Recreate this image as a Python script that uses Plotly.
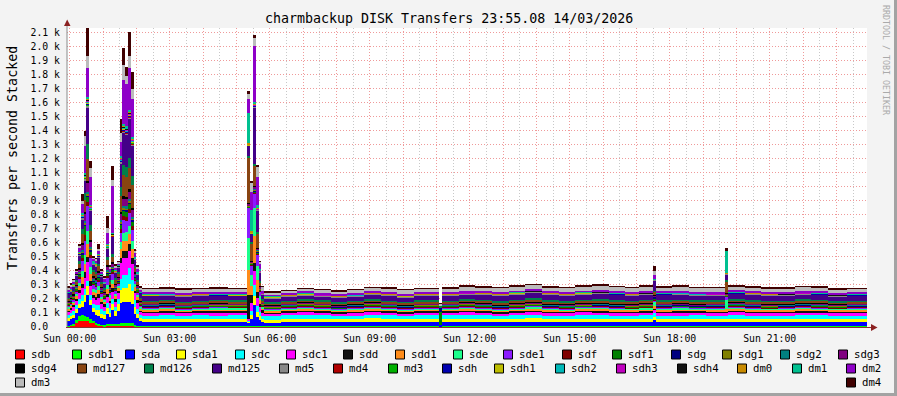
import plotly.graph_objects as go

# ---------------- data ----------------
series_names = ["sdb", "sdb1", "sda", "sda1", "sdc", "sdc1", "sdd", "sdd1", "sde", "sde1", "sdf", "sdf1",
                "sdg", "sdg1", "sdg2", "sdg3", "sdg4", "md127", "md126", "md125", "md5", "md4", "md3",
                "sdh", "sdh1", "sdh2", "sdh3", "sdh4", "dm0", "dm1", "dm2", "dm3", "dm4"]
series_colors = ["#FF0000", "#00FF00", "#0000FF", "#FFFF00", "#00FFFF", "#FF00FF", "#111111", "#FF8C1A",
                 "#1AFF8C", "#8C1AFF", "#800000", "#008000", "#000080", "#808000", "#008080", "#800080",
                 "#000000", "#884411", "#00804A", "#440088", "#888888", "#B00000", "#00B000", "#0000B0",
                 "#BDBD00", "#00B8B8", "#C000C0", "#111111", "#C88A00", "#00C090", "#8E00C8", "#BBBBBB",
                 "#400000"]

# start of each sample column, minutes after Sun 00:00 (5-min samples in busy periods, 30-min elsewhere)
col_start_min = [-5, 0, 5, 10, 15, 20, 25, 30, 35, 40, 45, 50, 55, 60, 65, 70, 75, 80, 85, 90, 95, 100,
                 105, 110, 115, 120, 125,
                 130, 160, 190, 220, 250, 285,
                 320, 325, 330, 335, 340,
                 345,
                 350, 380, 410, 440, 470, 500, 530, 560, 590, 620,
                 665,
                 670, 700, 730, 760, 790, 820, 850, 880, 910, 940, 970, 1000, 1025,
                 1050,
                 1055, 1085, 1115, 1145,
                 1180,
                 1185, 1215, 1245, 1275, 1305, 1335, 1365, 1400]
window_start_min = -4.867
window_end_min = 1435.133

# transfers per second, one value per column
sdb = [5, 8, 10, 30, 40, 45, 40, 40, 30, 25, 15, 10, 8, 6, 10, 8, 10, 8, 10, 8, 10, 10, 10, 8, 5, 4, 3,
       4, 5, 3, 4, 4, 5, 2, 2, 3, 3, 3, 4, 3, 4, 5, 4, 3, 4, 5, 4, 3, 4, 2,
       4, 5, 4, 3, 4, 5, 4, 3, 4, 5, 4, 3, 4, 4, 4, 3, 4, 5, 4, 5, 4, 3, 4, 4, 5, 3, 4]
sdb1 = [5, 6, 8, 20, 36, 40, 40, 30, 25, 20, 15, 10, 8, 8, 12, 10, 12, 10, 12, 20, 20, 20, 20, 18, 10, 6, 3,
        3, 2, 4, 3, 2, 3, 3, 3, 5, 5, 4, 3, 2, 3, 4, 3, 2, 3, 4, 3, 2, 3, 2,
        3, 4, 2, 3, 4, 3, 2, 3, 4, 3, 2, 3, 4, 3, 3, 4, 3, 2, 3, 2, 3, 4, 3, 2, 3, 4, 3]
sda = [35, 40, 45, 50, 60, 60, 100, 160, 100, 60, 56, 60, 50, 46, 70, 51, 100, 60, 90, 140, 150, 150, 150, 140, 80, 51, 39,
       28, 30, 27, 29, 28, 30, 29, 50, 150, 60, 40, 28, 27, 29, 28, 30, 28, 27, 29, 30, 28, 29, 12,
       29, 28, 30, 28, 29, 31, 28, 30, 29, 28, 30, 29, 28, 40, 28, 30, 29, 28, 28, 29, 28, 30, 27, 29, 28, 30, 28]
sda1 = [20, 22, 25, 25, 30, 40, 50, 60, 40, 30, 35, 40, 30, 28, 40, 32, 40, 35, 50, 95, 100, 100, 130, 90, 50, 35, 20,
        22, 21, 23, 22, 21, 22, 5, 30, 60, 40, 30, 22, 21, 22, 23, 22, 21, 22, 23, 21, 22, 23, 0,
        22, 23, 22, 21, 22, 23, 22, 21, 23, 22, 21, 22, 23, 22, 22, 21, 23, 22, 22, 23, 22, 21, 22, 23, 22, 21, 22]
sdc = [22, 24, 26, 30, 35, 40, 40, 40, 30, 30, 35, 40, 30, 28, 40, 32, 40, 30, 40, 80, 90, 90, 110, 80, 45, 35, 22,
       24, 25, 23, 24, 25, 24, 10, 30, 80, 40, 30, 24, 23, 24, 25, 24, 23, 24, 25, 24, 23, 24, 0,
       24, 25, 24, 23, 24, 25, 24, 23, 25, 24, 23, 24, 25, 34, 24, 23, 25, 24, 24, 25, 24, 23, 24, 25, 24, 23, 24]
sdc1 = [22, 24, 26, 30, 40, 50, 80, 130, 70, 40, 40, 50, 35, 30, 39, 36, 50, 38, 40, 110, 120, 124, 120, 110, 50, 40, 22,
        22, 23, 21, 22, 23, 22, 10, 56, 100, 60, 35, 22, 21, 22, 23, 22, 21, 22, 23, 22, 21, 22, 0,
        22, 23, 22, 21, 22, 23, 22, 21, 22, 23, 22, 21, 22, 22, 22, 23, 21, 22, 22, 23, 22, 21, 22, 23, 22, 21, 22]
sdd = [12, 14, 16, 18, 20, 30, 40, 40, 30, 20, 20, 25, 18, 15, 25, 18, 25, 18, 15, 40, 50, 50, 50, 45, 20, 18, 12,
       10, 11, 9, 10, 11, 10, 170, 60, 60, 40, 20, 15, 9, 10, 11, 10, 9, 10, 11, 10, 9, 10, 0,
       10, 11, 10, 9, 10, 11, 10, 9, 10, 11, 10, 9, 10, 10, 10, 11, 9, 10, 10, 11, 10, 9, 10, 11, 10, 9, 10]
sdd1 = [14, 14, 16, 20, 30, 50, 60, 90, 50, 25, 25, 30, 22, 18, 35, 22, 30, 22, 20, 60, 70, 70, 70, 65, 25, 22, 14,
        12, 13, 11, 12, 13, 12, 180, 60, 190, 90, 30, 17, 11, 12, 13, 12, 11, 12, 13, 12, 11, 12, 0,
        12, 13, 12, 11, 12, 13, 12, 11, 12, 13, 12, 11, 12, 12, 12, 13, 11, 12, 12, 13, 12, 11, 12, 13, 12, 11, 12]
sde = [10, 10, 12, 15, 25, 45, 60, 94, 50, 20, 20, 25, 15, 12, 30, 16, 30, 16, 15, 50, 60, 60, 60, 55, 20, 16, 10,
       8, 9, 7, 8, 9, 8, 226, 80, 200, 100, 30, 8, 7, 8, 9, 8, 7, 8, 9, 8, 7, 8, 0,
       8, 9, 8, 7, 8, 9, 8, 7, 8, 9, 8, 7, 8, 38, 8, 9, 7, 8, 68, 9, 8, 7, 8, 9, 8, 7, 8]
sde1 = [8, 8, 10, 15, 30, 70, 100, 180, 64, 30, 25, 35, 20, 15, 45, 20, 40, 22, 18, 70, 90, 80, 90, 80, 25, 20, 8,
        6, 7, 5, 6, 7, 6, 214, 70, 100, 80, 30, 6, 5, 6, 7, 6, 5, 6, 7, 6, 5, 6, 0,
        6, 7, 6, 5, 6, 7, 6, 5, 6, 7, 6, 5, 6, 6, 6, 7, 5, 6, 22, 7, 6, 5, 6, 7, 6, 5, 6]
sdf = [6, 6, 6, 8, 10, 20, 48, 30, 25, 10, 10, 12, 8, 7, 15, 8, 15, 8, 8, 25, 30, 30, 30, 28, 10, 8, 6,
       5, 5, 5, 5, 5, 5, 5, 5, 10, 8, 6, 5, 5, 5, 5, 5, 5, 5, 5, 5, 5, 5, 0,
       5, 5, 5, 5, 5, 5, 5, 5, 5, 5, 5, 5, 5, 5, 5, 5, 5, 5, 5, 5, 5, 5, 5, 5, 5, 5, 5]
sdf1 = [6, 6, 8, 10, 15, 30, 60, 30, 25, 12, 12, 15, 10, 8, 20, 10, 15, 10, 8, 30, 35, 35, 35, 30, 12, 10, 6,
        5, 5, 5, 5, 5, 5, 5, 5, 10, 8, 6, 5, 5, 5, 5, 5, 5, 5, 5, 5, 5, 5, 90,
        5, 5, 5, 5, 5, 5, 5, 5, 5, 5, 5, 5, 5, 5, 5, 5, 5, 5, 5, 5, 5, 5, 5, 5, 5, 5, 5]
sdg = [4, 4, 4, 5, 8, 10, 15, 15, 10, 6, 6, 6, 5, 4, 8, 5, 8, 5, 5, 12, 15, 15, 15, 14, 6, 5, 4,
       3, 3, 3, 3, 3, 3, 3, 3, 5, 4, 4, 3, 3, 3, 3, 3, 3, 3, 3, 3, 3, 3, 30,
       3, 3, 3, 3, 3, 3, 3, 3, 3, 3, 3, 3, 3, 13, 3, 3, 3, 3, 3, 3, 3, 3, 3, 3, 3, 3, 3]
sdg1 = [4, 4, 4, 5, 6, 8, 10, 10, 8, 5, 5, 5, 4, 4, 6, 4, 6, 4, 4, 10, 10, 10, 10, 10, 5, 4, 4,
        3, 3, 3, 3, 3, 3, 3, 3, 5, 4, 4, 3, 3, 3, 3, 3, 3, 3, 3, 3, 3, 3, 6,
        3, 3, 3, 3, 3, 3, 3, 3, 3, 3, 3, 3, 3, 3, 3, 3, 3, 3, 3, 3, 3, 3, 3, 3, 3, 3, 3]
sdg2 = [4, 4, 4, 5, 8, 12, 15, 15, 10, 6, 6, 8, 5, 4, 8, 5, 8, 5, 5, 12, 15, 15, 15, 14, 6, 5, 4,
        3, 3, 3, 3, 3, 3, 3, 3, 5, 4, 4, 3, 3, 3, 3, 3, 3, 3, 3, 3, 3, 3, 0,
        3, 3, 3, 3, 3, 3, 3, 3, 3, 3, 3, 3, 3, 3, 3, 3, 3, 3, 3, 3, 3, 3, 3, 3, 3, 3, 3]
sdg3 = [6, 6, 8, 10, 20, 40, 50, 60, 40, 15, 15, 20, 12, 10, 30, 14, 25, 14, 12, 40, 50, 50, 50, 45, 15, 14, 6,
        6, 6, 6, 6, 6, 6, 10, 10, 20, 15, 10, 6, 6, 6, 6, 6, 6, 6, 6, 6, 6, 6, 0,
        6, 6, 6, 6, 6, 6, 6, 6, 6, 6, 6, 6, 6, 6, 6, 6, 6, 6, 6, 6, 6, 6, 6, 6, 6, 6, 6]
sdg4 = [4, 4, 4, 5, 6, 10, 15, 20, 10, 6, 6, 6, 5, 4, 8, 5, 8, 5, 5, 15, 20, 20, 20, 18, 6, 5, 4,
        3, 3, 3, 3, 3, 3, 3, 3, 5, 4, 4, 3, 3, 3, 3, 3, 3, 3, 3, 3, 3, 3, 0,
        3, 3, 3, 3, 3, 3, 3, 3, 3, 3, 3, 3, 3, 3, 3, 3, 3, 3, 3, 3, 3, 3, 3, 3, 3, 3, 3]
md127 = [15, 16, 18, 22, 30, 60, 80, 155, 70, 30, 30, 35, 25, 22, 40, 26, 40, 26, 22, 120, 150, 140, 150, 159, 30, 26, 15,
         14, 15, 13, 14, 15, 14, 330, 120, 137, 100, 30, 14, 13, 14, 15, 14, 13, 14, 15, 14, 13, 14, 0,
         14, 16, 18, 19, 20, 21, 18, 17, 18, 19, 18, 17, 18, 24, 18, 17, 18, 16, 83, 17, 18, 17, 16, 17, 18, 15, 14]
md126 = [6, 6, 8, 10, 20, 40, 50, 108, 40, 15, 15, 15, 10, 8, 20, 12, 20, 12, 10, 60, 70, 70, 70, 65, 15, 12, 6,
         6, 6, 6, 6, 6, 6, 10, 10, 20, 15, 10, 6, 6, 6, 6, 6, 6, 6, 6, 6, 6, 6, 10,
         6, 6, 6, 6, 6, 6, 6, 6, 6, 6, 6, 6, 6, 6, 6, 6, 6, 6, 6, 6, 6, 6, 6, 6, 6, 6, 6]
md125 = [28, 30, 34, 34, 40, 69, 94, 260, 100, 40, 40, 50, 40, 35, 60, 40, 120, 40, 35, 170, 231, 230, 280, 220, 45, 40, 28,
         34, 32, 36, 35, 30, 31, 70, 60, 400, 150, 60, 36, 30, 29, 31, 30, 32, 34, 33, 36, 35, 34, 0,
         36, 35, 38, 39, 40, 41, 40, 39, 40, 41, 39, 38, 38, 70, 38, 39, 38, 37, 40, 38, 39, 38, 37, 36, 37, 35, 35]
md5 = [6, 6, 6, 6, 6, 8, 10, 10, 8, 6, 6, 6, 6, 6, 6, 6, 6, 6, 6, 10, 10, 10, 10, 10, 6, 6, 6,
       6, 6, 6, 6, 6, 6, 5, 5, 5, 5, 6, 6, 6, 6, 6, 6, 6, 6, 6, 6, 6, 6, 0,
       6, 6, 6, 6, 6, 6, 6, 6, 6, 6, 6, 6, 6, 6, 6, 6, 6, 6, 6, 6, 6, 6, 6, 6, 6, 6, 6]
md4 = [0, 0, 0, 0, 2, 3, 4, 5, 3, 1, 1, 1, 0, 0, 2, 0, 2, 0, 0, 3, 4, 4, 4, 4, 1, 0, 0,
       0, 0, 0, 0, 0, 0, 0, 0, 2, 1, 0, 0, 0, 0, 0, 0, 0, 0, 0, 0, 0, 0, 0,
       0, 0, 0, 0, 0, 0, 0, 0, 0, 0, 0, 0, 0, 0, 0, 0, 0, 0, 0, 0, 0, 0, 0, 0, 0, 0, 0]
md3 = [0, 0, 0, 0, 2, 3, 4, 5, 3, 1, 1, 1, 0, 0, 2, 0, 2, 0, 0, 3, 4, 4, 4, 4, 1, 0, 0,
       0, 0, 0, 0, 0, 0, 0, 0, 2, 1, 0, 0, 0, 0, 0, 0, 0, 0, 0, 0, 0, 0, 0,
       0, 0, 0, 0, 0, 0, 0, 0, 0, 0, 0, 0, 0, 0, 0, 0, 0, 0, 0, 0, 0, 0, 0, 0, 0, 0, 0]
sdh = [1, 1, 1, 1, 2, 3, 4, 5, 3, 2, 2, 2, 1, 1, 2, 1, 2, 1, 1, 4, 5, 5, 5, 5, 2, 1, 1,
       1, 1, 1, 1, 1, 1, 1, 1, 2, 1, 1, 1, 1, 1, 1, 1, 1, 1, 1, 1, 1, 1, 0,
       1, 1, 1, 1, 1, 1, 1, 1, 1, 1, 1, 1, 1, 1, 1, 1, 1, 1, 1, 1, 1, 1, 1, 1, 1, 1, 1]
sdh1 = [1, 1, 1, 1, 1, 2, 3, 5, 3, 1, 1, 1, 1, 1, 2, 1, 2, 1, 1, 3, 4, 4, 4, 4, 1, 1, 1,
        1, 1, 1, 1, 1, 1, 1, 1, 2, 1, 1, 1, 1, 1, 1, 1, 1, 1, 1, 1, 1, 1, 0,
        1, 1, 1, 1, 1, 1, 1, 1, 1, 1, 1, 1, 1, 1, 1, 1, 1, 1, 1, 1, 1, 1, 1, 1, 1, 1, 1]
sdh2 = [1, 1, 1, 1, 2, 4, 5, 10, 5, 2, 2, 2, 1, 1, 3, 1, 3, 1, 1, 5, 6, 6, 6, 6, 2, 1, 1,
        1, 1, 1, 1, 1, 1, 1, 1, 3, 1, 1, 1, 1, 1, 1, 1, 1, 1, 1, 1, 1, 1, 0,
        1, 1, 1, 1, 1, 1, 1, 1, 1, 1, 1, 1, 1, 1, 1, 1, 1, 1, 1, 1, 1, 1, 1, 1, 1, 1, 1]
sdh3 = [1, 1, 1, 1, 2, 4, 5, 10, 5, 2, 2, 2, 1, 1, 3, 1, 3, 1, 1, 5, 6, 6, 6, 6, 2, 1, 1,
        1, 1, 1, 1, 1, 1, 1, 1, 3, 1, 1, 1, 1, 1, 1, 1, 1, 1, 1, 1, 1, 1, 0,
        1, 1, 1, 1, 1, 1, 1, 1, 1, 1, 1, 1, 1, 1, 1, 1, 1, 1, 1, 1, 1, 1, 1, 1, 1, 1, 1]
sdh4 = [1, 1, 1, 1, 1, 2, 3, 5, 3, 1, 1, 1, 1, 1, 2, 1, 2, 1, 1, 3, 4, 4, 4, 4, 1, 1, 1,
        1, 1, 1, 1, 1, 1, 1, 1, 2, 1, 1, 1, 1, 1, 1, 1, 1, 1, 1, 1, 1, 1, 0,
        1, 1, 1, 1, 1, 1, 1, 1, 1, 1, 1, 1, 1, 1, 1, 1, 1, 1, 1, 1, 1, 1, 1, 1, 1, 1, 1]
dm0 = [2, 2, 2, 2, 3, 4, 5, 5, 4, 2, 2, 2, 2, 2, 3, 2, 3, 2, 2, 5, 6, 6, 6, 6, 2, 2, 2,
       2, 2, 2, 2, 2, 2, 12, 10, 5, 5, 2, 2, 2, 2, 2, 2, 2, 2, 2, 2, 2, 2, 0,
       2, 2, 2, 2, 2, 2, 2, 2, 2, 2, 2, 2, 2, 2, 2, 2, 2, 2, 2, 2, 2, 2, 2, 2, 2, 2, 2]
dm1 = [2, 2, 2, 2, 5, 8, 10, 15, 8, 4, 4, 4, 3, 2, 5, 3, 5, 3, 3, 10, 12, 12, 12, 12, 4, 3, 2,
       2, 2, 2, 2, 2, 2, 214, 150, 10, 20, 10, 2, 2, 2, 2, 2, 2, 2, 2, 2, 2, 2, 0,
       2, 2, 2, 2, 2, 2, 2, 2, 2, 2, 2, 2, 2, 2, 2, 2, 2, 2, 163, 2, 2, 2, 2, 2, 2, 2, 2]
dm2 = [10, 12, 12, 14, 30, 70, 190, 203, 200, 20, 20, 25, 15, 12, 80, 20, 330, 20, 15, 102, 310, 300, 300, 270, 25, 20, 10,
       10, 11, 9, 10, 11, 10, 100, 130, 400, 200, 38, 10, 9, 10, 11, 10, 9, 10, 11, 10, 9, 10, 0,
       10, 11, 10, 9, 10, 11, 10, 9, 10, 11, 10, 9, 10, 30, 10, 11, 9, 10, 0, 11, 10, 9, 10, 11, 10, 9, 10]
dm3 = [24, 22, 16, 10, 10, 20, 70, 83, 60, 10, 12, 15, 15, 16, 36, 20, 48, 16, 12, 60, 107, 60, 83, 71, 15, 20, 24,
       25, 24, 27, 26, 26, 25, 36, 67, 60, 79, 15, 28, 16, 17, 19, 20, 22, 21, 22, 24, 27, 26, 14,
       28, 29, 30, 31, 30, 29, 30, 31, 32, 33, 32, 31, 32, 22, 30, 31, 28, 29, 0, 30, 29, 28, 27, 27, 28, 27, 26]
dm4 = [5, 5, 5, 4, 15, 50, 35, 207, 48, 3, 5, 31, 4, 5, 83, 10, 100, 10, 3, 100, 126, 60, 171, 124, 8, 8, 5,
       4, 5, 4, 3, 4, 5, 17, 12, 19, 5, 4, 4, 4, 3, 4, 5, 4, 3, 4, 5, 4, 3, 4,
       4, 5, 4, 3, 4, 5, 4, 3, 4, 5, 4, 3, 4, 40, 4, 5, 3, 4, 12, 5, 4, 3, 4, 5, 4, 3, 4]

series_values = [sdb, sdb1, sda, sda1, sdc, sdc1, sdd, sdd1, sde, sde1, sdf, sdf1, sdg, sdg1, sdg2, sdg3,
                 sdg4, md127, md126, md125, md5, md4, md3, sdh, sdh1, sdh2, sdh3, sdh4, dm0, dm1, dm2, dm3, dm4]

y_tick_values = [0, 100, 200, 300, 400, 500, 600, 700, 800, 900, 1000, 1100, 1200, 1300, 1400, 1500,
                 1600, 1700, 1800, 1900, 2000, 2100]
y_tick_labels = ["0.0\u00a0\u00a0", "0.1 k", "0.2 k", "0.3 k", "0.4 k", "0.5 k", "0.6 k", "0.7 k", "0.8 k",
                 "0.9 k", "1.0 k", "1.1 k", "1.2 k", "1.3 k", "1.4 k", "1.5 k", "1.6 k", "1.7 k", "1.8 k",
                 "1.9 k", "2.0 k", "2.1 k"]
x_label_hours = [0, 3, 6, 9, 12, 15, 18, 21]
x_tick_labels = ["Sun 00:00", "Sun 03:00", "Sun 06:00", "Sun 09:00", "Sun 12:00", "Sun 15:00",
                 "Sun 18:00", "Sun 21:00"]
title_text = "charmbackup DISK Transfers 23:55.08 14/03/2026"
y_title_text = "Transfers per second Stacked"
watermark_text = "RRDTOOL / TOBI OETIKER"

# ---------------- layout geometry (pixels) ----------------
W, H = 897, 396
L, R, T, B = 67, 30, 28, 69
PW, PH = W - L - R, H - T - B
Y_MAX = 2131
MONO = "DejaVu Sans Mono"


def px(x):
    return (x - L) / PW


def py(y):
    return (H - B - y) / PH


# column geometry derived from the sample start times
col_end_min = col_start_min[1:] + [window_end_min]
widths_h = [(e - s) / 60 for s, e in zip(col_start_min, col_end_min)]
centers_h = [(s + e) / 120 for s, e in zip(col_start_min, col_end_min)]

fig = go.Figure()
for name, color, vals in zip(series_names, series_colors, series_values):
    assert len(vals) == len(col_start_min), (name, len(vals))
    fig.add_trace(go.Bar(x=centers_h, y=vals, width=widths_h, name=name,
                         marker=dict(color=color, line=dict(width=0)),
                         showlegend=False, hoverinfo="skip"))

hour_ticks = list(range(0, 24))
hour_text = [x_tick_labels[x_label_hours.index(h)] if h in x_label_hours else "" for h in hour_ticks]
half_hours = [h + 0.5 for h in range(-1, 24)]

shapes = []
annotations = []

# axis lines and arrows
shapes.append(dict(type="line", xref="paper", yref="paper", x0=px(67), x1=px(67), y0=py(327.5), y1=py(24),
                   line=dict(color="#8a8a8a", width=1)))
shapes.append(dict(type="line", xref="paper", yref="paper", x0=px(66), x1=px(872), y0=py(327.5), y1=py(327.5),
                   line=dict(color="#8a3030", width=1)))
shapes.append(dict(type="path", xref="paper", yref="paper",
                   path=f"M {px(64)} {py(26)} L {px(70.5)} {py(26)} L {px(67.2)} {py(19.5)} Z",
                   fillcolor="#8b2020", line=dict(width=0)))
shapes.append(dict(type="path", xref="paper", yref="paper",
                   path=f"M {px(871)} {py(324)} L {px(871)} {py(331)} L {px(877.5)} {py(327.5)} Z",
                   fillcolor="#8b2020", line=dict(width=0)))

# frame shading
shapes.append(dict(type="rect", xref="paper", yref="paper", x0=px(894), x1=px(897), y0=py(0), y1=py(396),
                   fillcolor="#a3a3a3", line=dict(width=0)))
shapes.append(dict(type="rect", xref="paper", yref="paper", x0=px(0), x1=px(897), y0=py(393), y1=py(396),
                   fillcolor="#a3a3a3", line=dict(width=0)))

# legend (drawn like rrdtool: boxes + monospace labels)
legend_box_x = [15, 72, 125, 176, 235, 286, 343, 395, 453, 503, 562, 612, 671, 722, 780, 838,
                15, 77, 144, 212, 279, 333, 388, 442, 494, 555, 616, 677, 737, 792, 846,
                15, 846]
legend_row = [0] * 16 + [1] * 15 + [2, 2]
legend_row_y = [354.5, 368.5, 382.5]
for name, color, bx, row in zip(series_names, series_colors, legend_box_x, legend_row):
    ry = legend_row_y[row]
    shapes.append(dict(type="rect", xref="paper", yref="paper", x0=px(bx + 0.5), x1=px(bx + 9.5),
                       y0=py(ry - 4.5), y1=py(ry + 4.5), fillcolor=color,
                       line=dict(color="#000000", width=1)))
    annotations.append(dict(text=name, xref="paper", yref="paper", x=px(bx + 15), y=py(ry),
                            xanchor="left", yanchor="middle", showarrow=False, borderpad=0,
                            font=dict(family=MONO, size=10.7, color="#000000")))

annotations.append(dict(text=title_text, xref="paper", yref="paper", x=px(449), y=py(18.5),
                        xanchor="center", yanchor="middle", showarrow=False,
                        font=dict(family=MONO, size=13.3, color="#000000")))
annotations.append(dict(text=y_title_text, xref="paper", yref="paper", x=px(12), y=py(158),
                        xanchor="center", yanchor="middle", showarrow=False, textangle=-90,
                        font=dict(family=MONO, size=13.3, color="#000000")))
annotations.append(dict(text=watermark_text, xref="paper", yref="paper", x=px(886), y=py(60),
                        xanchor="center", yanchor="middle", showarrow=False, textangle=90,
                        font=dict(family=MONO, size=8.3, color="#aaaaaa")))

fig.update_layout(
    width=W, height=H,
    margin=dict(l=L, r=R, t=T, b=B, pad=0),
    paper_bgcolor="#f3f3f3", plot_bgcolor="#ffffff",
    barmode="stack", bargap=0,
    showlegend=False,
    shapes=shapes, annotations=annotations,
    xaxis=dict(range=[window_start_min / 60, window_end_min / 60], tickmode="array",
               tickvals=hour_ticks, ticktext=hour_text, ticks="", showline=False, zeroline=False,
               showgrid=True, gridcolor="#ef9a9a", griddash="1px,2px", gridwidth=1,
               minor=dict(tickmode="array", tickvals=half_hours, showgrid=True,
                          gridcolor="#c8c8c8", griddash="1px,2px", gridwidth=1),
               tickfont=dict(family=MONO, size=9.8, color="#000000"), ticklabelstandoff=4,
               fixedrange=True),
    yaxis=dict(range=[0, Y_MAX], tickmode="array", tickvals=y_tick_values, ticktext=y_tick_labels,
               ticks="", showline=False, zeroline=False,
               showgrid=True, gridcolor="#ef9a9a", griddash="1px,2px", gridwidth=1,
               tickfont=dict(family=MONO, size=9.8, color="#000000"), ticklabelstandoff=6,
               fixedrange=True),
)

fig.write_html("out.html")
